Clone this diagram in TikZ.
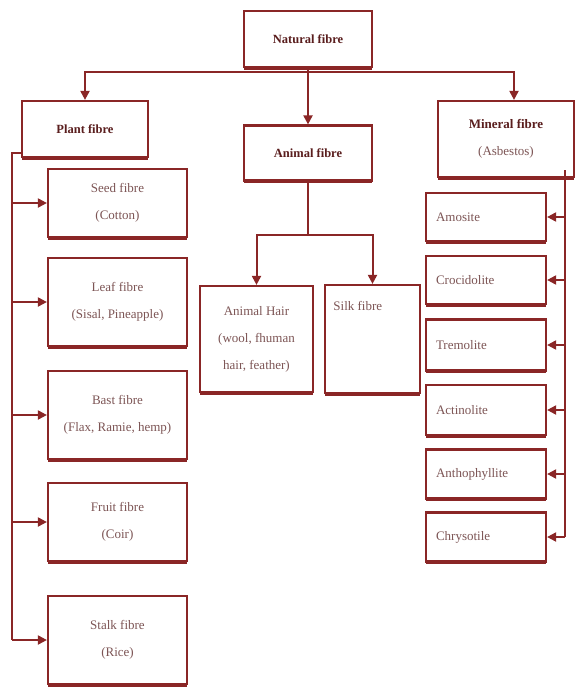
\documentclass[tikz,border=0pt]{standalone}
\usepackage{fontspec}
\setmainfont{Liberation Serif}
\usetikzlibrary{arrows.meta,shadows}
\definecolor{fibred}{HTML}{8A2626}
\definecolor{fibtext}{HTML}{7D5555}
\definecolor{fibhead}{HTML}{5A1E1E}
\tikzset{
  box/.style={draw=fibred, line width=2.2pt, fill=white, text=fibtext, align=center,
    font=\fontsize{13}{27}\selectfont, inner sep=4pt,
    drop shadow={shadow xshift=0pt, shadow yshift=-2.5pt, fill=fibred, opacity=1}},
  headbox/.style={box, text=fibhead, font=\fontsize{12.5}{25}\selectfont\bfseries},
  mbox/.style={box, text width=100pt, align=left, minimum width=120pt},
  link/.style={draw=fibred, line width=2pt},
  arrow/.style={link, -{Triangle[length=9pt,width=9pt]}},
}
\begin{document}
\begin{tikzpicture}[x=1pt, y=-1pt]
            \useasboundingbox (0,0) rectangle (574,688);

            \node[headbox, minimum width=128pt, minimum height=56pt] (nat) at (308,39) {Natural fibre};
            \node[headbox, minimum width=126pt, minimum height=56pt] (plant) at (85,129) {Plant fibre};
            \node[headbox, minimum width=128pt, minimum height=55pt] (animal) at (308,153) {Animal fibre};
            \node[box, minimum width=136pt, minimum height=76pt] (mineral) at (506,139)
                {\textcolor{fibhead}{\bfseries Mineral fibre}\\(Asbestos)};

            \node[box, minimum width=139pt, minimum height=68pt] (seed) at (117.5,203) {Seed fibre\\(Cotton)};
            \node[box, minimum width=139pt, minimum height=88pt] (leaf) at (117.5,302) {Leaf fibre\\(Sisal, Pineapple)};
            \node[box, minimum width=139pt, minimum height=88pt] (bast) at (117.5,415) {Bast fibre\\(Flax, Ramie, hemp)};
            \node[box, minimum width=139pt, minimum height=78pt] (fruit) at (117.5,522) {Fruit fibre\\(Coir)};
            \node[box, minimum width=139pt, minimum height=88pt] (stalk) at (117.5,640) {Stalk fibre\\(Rice)};

            \node[box, minimum width=113pt, minimum height=106pt] (hair) at (256.5,339) {Animal Hair\\(wool, fhuman\\hair, feather)};
            \node[box, minimum width=95pt, minimum height=108pt,
                label={[text=fibtext, font=\fontsize{13}{27}\selectfont, anchor=north west, xshift=6pt, yshift=-14pt]north west:Silk fibre}] (silk) at (372.5,339) {};

            \node[mbox, minimum height=48pt] (amo) at (486,217) {Amosite};
            \node[mbox, minimum height=48pt] (croc) at (486,280) {Crocidolite};
            \node[mbox, minimum height=51pt] (trem) at (486,345) {Tremolite};
            \node[mbox, minimum height=50pt] (actin) at (486,410) {Actinolite};
            \node[mbox, minimum height=49pt] (antho) at (486,474) {Anthophyllite};
            \node[mbox, minimum height=49pt] (chry) at (486,537) {Chrysotile};

            \coordinate (natbar) at (308,72);
            \coordinate (abar) at (308,235);
            \coordinate (pspine) at (12,0);
            \coordinate (mspine) at (565,0);

            % top level
            \draw[link] (nat.south) -- (natbar);
            \draw[arrow] (natbar) -| (plant.north);
            \draw[arrow] (natbar) -- (animal.north);
            \draw[arrow] (natbar) -| ([xshift=8pt]mineral.north);

            % plant fibres
            \draw[link] ([yshift=5pt]plant.south west) -| (pspine |- stalk.west);
            \foreach \n in {seed, leaf, bast, fruit, stalk}
                \draw[arrow] (pspine |- \n.west) -- (\n.west);

            % animal fibres
            \draw[link] (animal.south) -- (abar);
            \draw[arrow] (abar) -| (hair.north);
            \draw[arrow] (abar) -| (silk.north);

            % mineral fibres
            \draw[link] (mspine |- 0,170) -- (mspine |- chry.east);
            \foreach \n in {amo, croc, trem, actin, antho, chry}
                \draw[arrow] (mspine |- \n.east) -- (\n.east);
\end{tikzpicture}
\end{document}
